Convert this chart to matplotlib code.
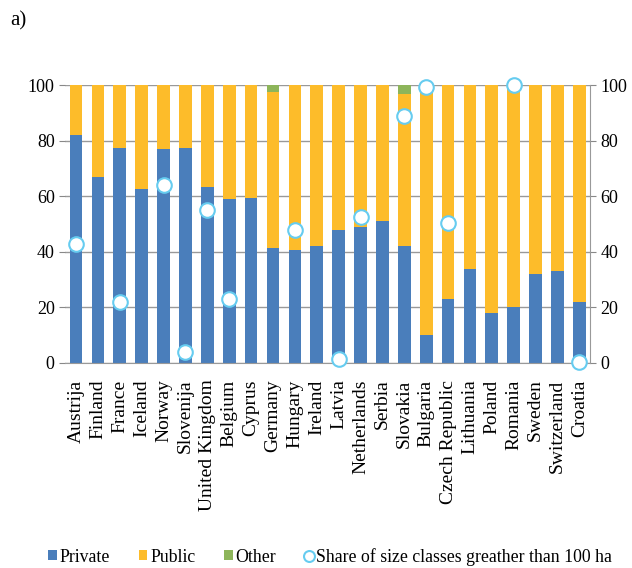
import matplotlib.pyplot as plt
import numpy as np

countries = ['Austrija', 'Finland', 'France', 'Iceland', 'Norway', 'Slovenija',
             'United Kingdom', 'Belgium', 'Cyprus', 'Germany', 'Hungary', 'Ireland',
             'Latvia', 'Netherlands', 'Serbia', 'Slovakia', 'Bulgaria', 'Czech Republic',
             'Lithuania', 'Poland', 'Romania', 'Sweden', 'Switzerland', 'Croatia']
private = [82, 67, 77.5, 62.5, 77, 77.5, 63.5, 59, 59.5, 41.5, 40.5, 42,
           48, 49, 51, 42, 10, 23, 34, 18, 20, 32, 33, 22]
other = [0, 0, 0, 0, 0, 0, 0, 0, 0, 2.5, 0, 0,
         0, 0, 0, 3, 0, 0, 0, 0, 0, 0, 0, 0]
public = [100 - p - o for p, o in zip(private, other)]
# share of size classes greater than 100 ha (NaN = no value)
share = [43, np.nan, 22, np.nan, 64, 4, 55, 23, np.nan, np.nan, 48, np.nan,
         1.5, 52.5, np.nan, 89, 99.5, 50.5, np.nan, np.nan, 100, np.nan, np.nan, 0.5]

plt.rcParams['font.family'] = ['Liberation Serif', 'DejaVu Serif']

c_private = '#4a7ebb'
c_public = '#fdbc2a'
c_other = '#8db55a'
c_share = '#66ccf0'

fig = plt.figure(figsize=(6.32, 5.68), dpi=100)
ax = fig.add_axes([0.103, 0.361, 0.831, 0.489])
x = np.arange(len(countries))
w = 0.58

ax.bar(x, private, w, color=c_private, label='Private', zorder=2)
ax.bar(x, public, w, bottom=private, color=c_public, label='Public', zorder=2)
ax.bar(x, other, w, bottom=[p + q for p, q in zip(private, public)],
       color=c_other, label='Other', zorder=2)

ax2 = ax.twinx()
ax2.plot(x, share, linestyle='none', marker='o', markersize=10.5,
         markerfacecolor='white', markeredgecolor=c_share, markeredgewidth=1.5,
         label='Share of size classes greather than 100 ha', zorder=3, clip_on=False)

for a in (ax, ax2):
    a.set_ylim(0, 100)
    a.set_yticks(range(0, 101, 20))
    a.set_xlim(-0.5, len(countries) - 0.5)
    a.tick_params(axis='y', labelsize=13, length=4, color='#888888')
    for s in a.spines.values():
        s.set_visible(False)

ax.spines['bottom'].set_visible(True)
ax.spines['bottom'].set_color('#999999')
ax2.spines['right'].set_visible(True)
ax2.spines['right'].set_color('#999999')
ax.yaxis.grid(True, color='#999999', linewidth=1)
ax.set_axisbelow(True)

ax.set_xticks(x)
ax.set_xticklabels(countries, rotation=90, fontsize=14)
ax.tick_params(axis='x', length=0, pad=12)

h1, l1 = ax.get_legend_handles_labels()
h2, l2 = ax2.get_legend_handles_labels()
fig.legend(h1 + h2, l1 + l2, loc='center', bbox_to_anchor=(0.522, 0.02), ncol=4,
           frameon=False, fontsize=12.8, handlelength=0.5, handleheight=0.5,
           handletextpad=0.15, columnspacing=1.6, markerscale=0.75)

fig.text(0.016, 0.955, 'a)', fontsize=15)

fig.savefig('out.png', dpi=100)
